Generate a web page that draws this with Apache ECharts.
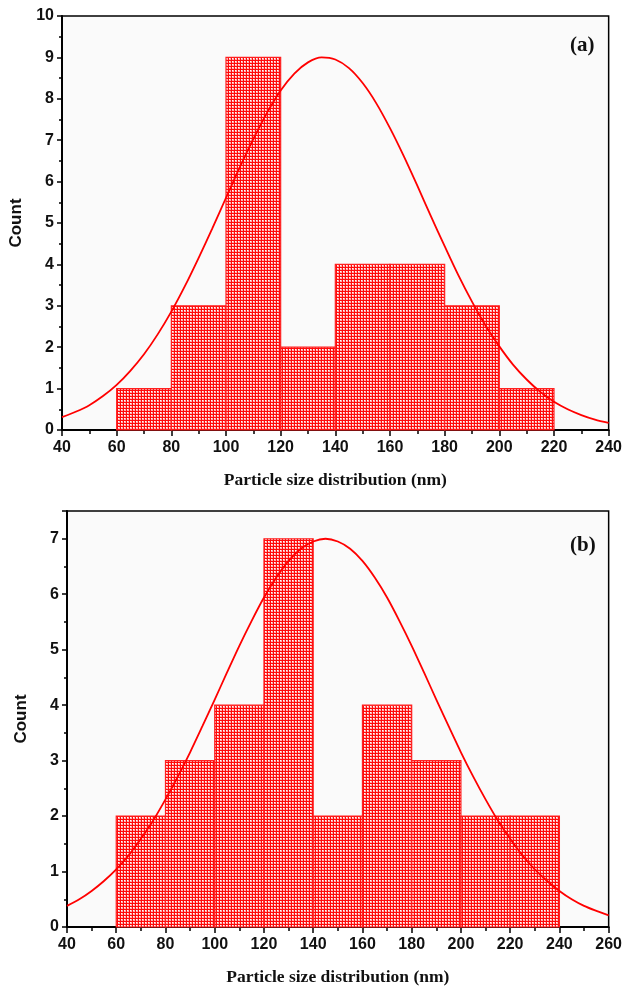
<!DOCTYPE html>
<html>
<head>
<meta charset="utf-8">
<script src="https://cdn.jsdelivr.net/npm/echarts@6/dist/echarts.min.js"></script>
<style>
html,body{margin:0;padding:0;background:#fff;}
#chart{width:625px;height:994px;}
</style>
</head>
<body>
<div id="chart"></div>
<script>
// ---- Data ----
const binStartA = [60, 80, 100, 120, 140, 160, 180, 200];
const binEndA   = [80, 100, 120, 140, 160, 180, 200, 220];
const countsA   = [1, 3, 9, 2, 4, 4, 3, 1];
const fitXA = [40, 45, 50, 55, 60, 65, 70, 75, 80, 85, 90, 95, 100, 105, 110, 115, 120, 125, 130, 135, 140,
               145, 150, 155, 160, 165, 170, 175, 180, 185, 190, 195, 200, 205, 210, 215, 220, 225, 230, 235, 240];
const fitYA = [0.31, 0.44, 0.60, 0.82, 1.09, 1.43, 1.83, 2.31, 2.86, 3.48, 4.16, 4.87, 5.61, 6.34, 7.03, 7.66, 8.20, 8.61, 8.88, 9.00, 8.95,
               8.74, 8.38, 7.89, 7.29, 6.62, 5.90, 5.16, 4.44, 3.74, 3.10, 2.52, 2.02, 1.58, 1.22, 0.92, 0.68, 0.50, 0.36, 0.25, 0.17];

const binStartB = [60, 80, 100, 120, 140, 160, 180, 200, 220];
const binEndB   = [80, 100, 120, 140, 160, 180, 200, 220, 240];
const countsB   = [2, 3, 4, 7, 2, 4, 3, 2, 2];
const fitXB = [40, 45, 50, 55, 60, 65, 70, 75, 80, 85, 90, 95, 100, 105, 110, 115, 120, 125, 130, 135, 140, 145, 150,
               155, 160, 165, 170, 175, 180, 185, 190, 195, 200, 205, 210, 215, 220, 225, 230, 235, 240, 245, 250, 255, 260];
const fitYB = [0.38, 0.50, 0.65, 0.83, 1.04, 1.29, 1.59, 1.92, 2.30, 2.71, 3.15, 3.62, 4.10, 4.59, 5.07, 5.52, 5.94, 6.30, 6.60, 6.82, 6.95, 7.00, 6.95,
               6.82, 6.60, 6.30, 5.94, 5.52, 5.07, 4.59, 4.10, 3.62, 3.15, 2.71, 2.30, 1.92, 1.59, 1.29, 1.04, 0.83, 0.65, 0.50, 0.38, 0.29, 0.21];

const xTitle = 'Particle size distribution (nm)';
const yTitle = 'Count';
const panelLabels = ['(a)', '(b)'];

// ---- Hatch pattern ----
const tile = document.createElement('canvas');
tile.width = 3; tile.height = 3;
const tctx = tile.getContext('2d');
tctx.fillStyle = '#ffb0b0';
tctx.fillRect(0, 0, 3, 3);
tctx.fillStyle = '#ffffff';
tctx.fillRect(1, 1, 1, 1);
tctx.fillStyle = '#ff0a0a';
tctx.fillRect(0, 0, 3, 1);
tctx.fillRect(0, 0, 1, 3);
const hatch = { image: tile, repeat: 'repeat' };

function zipBins(s, e, c) { return s.map((v, i) => [v, e[i], c[i]]); }
function zipXY(x, y) { return x.map((v, i) => [v, y[i]]); }

function renderBar(params, api) {
  const p0 = api.coord([api.value(0), api.value(2)]);
  const p1 = api.coord([api.value(1), 0]);
  return {
    type: 'rect',
    shape: { x: p0[0], y: p0[1], width: p1[0] - p0[0], height: p1[1] - p0[1] },
    style: { fill: hatch, stroke: '#ff2020', lineWidth: 1.2 }
  };
}

const labelFont = { fontFamily: 'Liberation Sans', fontWeight: 'bold', fontSize: 16, color: '#111' };
const axisLineStyle = { color: '#000', width: 2 };

function xAxisDef(gi, max) {
  return {
    gridIndex: gi, type: 'value', min: 40, max: max, interval: 20,
    axisLine: { show: true, lineStyle: axisLineStyle },
    axisTick: { show: true, inside: false, length: 6, lineStyle: { color: '#000', width: 1.5 } },
    minorTick: { show: true, splitNumber: 2, length: 4, lineStyle: { color: '#000', width: 1.5 } },
    splitLine: { show: false },
    axisLabel: Object.assign({ margin: 10 }, labelFont),
    name: xTitle, nameLocation: 'middle', nameGap: 41,
    nameTextStyle: { fontFamily: 'Liberation Serif', fontWeight: 'bold', fontSize: 17.5, color: '#111' }
  };
}
function yAxisDef(gi, max) {
  return {
    gridIndex: gi, type: 'value', min: 0, max: max, interval: 1,
    axisLine: { show: true, lineStyle: axisLineStyle },
    axisTick: { show: true, inside: false, length: 5, lineStyle: { color: '#000', width: 1.5 } },
    minorTick: { show: true, splitNumber: 2, length: 3, lineStyle: { color: '#000', width: 1.5 } },
    splitLine: { show: false },
    axisLabel: Object.assign({ margin: 8, formatter: v => (Number.isInteger(v) ? String(v) : '') }, labelFont),
    name: yTitle, nameLocation: 'middle', nameGap: 37,
    nameTextStyle: { fontFamily: 'Liberation Sans', fontWeight: 'bold', fontSize: 17, color: '#111' }
  };
}

const chart = echarts.init(document.getElementById('chart'), null, { renderer: 'canvas' });
chart.setOption({
  animation: false,
  backgroundColor: '#ffffff',
  grid: [
    { left: 62, top: 16, width: 551, height: 414, show: true, borderColor: '#000', borderWidth: 1.5, backgroundColor: '#fafafa' },
    { left: 67, top: 511, width: 548, height: 416, show: true, borderColor: '#000', borderWidth: 1.5, backgroundColor: '#fafafa' }
  ],
  xAxis: [xAxisDef(0, 240), xAxisDef(1, 260)],
  yAxis: [yAxisDef(0, 10), yAxisDef(1, 7.5)],
  graphic: [
    { type: 'text', left: 570, top: 35, style: { text: panelLabels[0], font: 'bold 21px "Liberation Serif"', fill: '#111' } },
    { type: 'text', left: 570, top: 535, style: { text: panelLabels[1], font: 'bold 21px "Liberation Serif"', fill: '#111' } }
  ],
  series: [
    { type: 'custom', xAxisIndex: 0, yAxisIndex: 0, data: zipBins(binStartA, binEndA, countsA), renderItem: renderBar, encode: { x: [0, 1], y: 2 } },
    { type: 'line', xAxisIndex: 0, yAxisIndex: 0, data: zipXY(fitXA, fitYA), smooth: 0.3, showSymbol: false, lineStyle: { color: '#ff0000', width: 1.8 }, z: 5 },
    { type: 'custom', xAxisIndex: 1, yAxisIndex: 1, data: zipBins(binStartB, binEndB, countsB), renderItem: renderBar, encode: { x: [0, 1], y: 2 } },
    { type: 'line', xAxisIndex: 1, yAxisIndex: 1, data: zipXY(fitXB, fitYB), smooth: 0.3, showSymbol: false, lineStyle: { color: '#ff0000', width: 1.8 }, z: 5 }
  ]
});
</script>
</body>
</html>
